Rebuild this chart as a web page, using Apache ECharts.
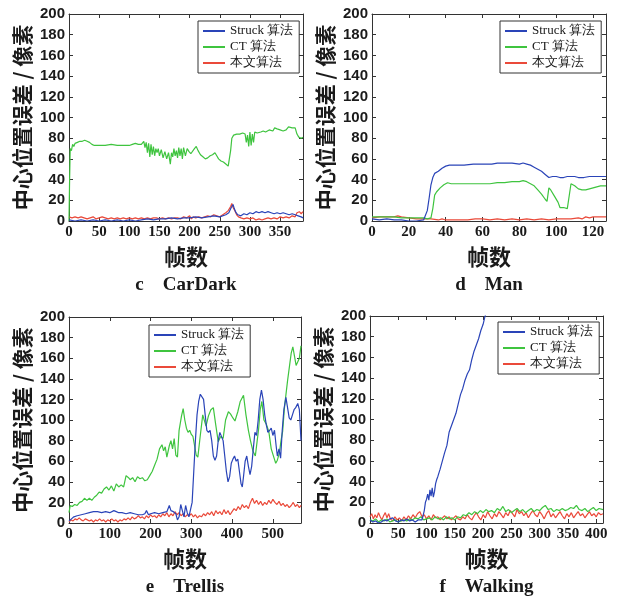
<!DOCTYPE html>
<html><head><meta charset="utf-8">
<script src="https://cdn.jsdelivr.net/npm/echarts@6/dist/echarts.min.js"></script>
<style>html,body{margin:0;padding:0;background:#fff}#c{width:617px;height:601px}</style>
</head><body><div id="c"></div><script>
// ---------- data ----------
const seriesNames = ['Struck 算法', 'CT 算法', '本文算法'];
const subtitles = ['c\u2003CarDark', 'd\u2003Man', 'e\u2003Trellis', 'f\u2003Walking'];
const xAxisName = '帧数';
const yAxisName = '中心位置误差 / 像素';
const xMaxes = [388, 127, 569, 412];
const xIntervals = [50, 20, 100, 50];

const carDarkStruck = [[0,1],[10,0],[20,1],[30,0],[40,1],[50,0],[60,1],[70,0],[80,1],[90,0],[100,1],[110,0],[120,1],[130,2],[140,1],[150,2],[160,2],[170,3],[180,2],[190,3],[200,3],[210,4],[220,3],[230,4],[240,5],[250,4],[260,6],[265,8],[269,13],[272,16],[274,12],[277,8],[280,6],[285,5],[290,7],[295,6],[300,8],[305,7],[310,9],[315,8],[320,9],[325,8],[330,9],[335,8],[340,7],[345,8],[350,7],[355,8],[360,7],[365,6],[370,7],[375,6],[380,5],[385,4],[388,3]];
const carDarkCT = [[0,0],[1,40],[2,70],[4,68],[6,74],[8,72],[10,75],[14,76],[18,77],[22,77],[26,78],[30,77],[34,76],[38,74],[42,73],[50,73],[60,73],[70,74],[80,73],[90,73],[100,73],[105,74],[110,75],[115,74],[120,74],[124,77],[126,71],[128,76],[130,66],[132,75],[134,62],[136,74],[138,64],[140,72],[142,63],[144,70],[146,66],[148,70],[150,63],[153,69],[156,61],[159,67],[162,60],[165,66],[168,55],[170,66],[172,62],[174,70],[176,63],[178,68],[180,61],[182,71],[184,63],[186,70],[188,60],[190,71],[193,63],[196,70],[199,67],[202,65],[205,64],[208,70],[211,72],[214,68],[218,64],[222,62],[226,60],[230,61],[234,63],[238,64],[242,66],[245,63],[248,60],[252,58],[256,57],[260,55],[264,53],[266,54],[268,68],[270,80],[273,83],[278,84],[283,84],[288,85],[292,84],[294,76],[296,83],[298,72],[300,86],[302,73],[304,84],[306,76],[308,86],[312,85],[318,86],[322,87],[326,86],[332,88],[338,87],[341,90],[345,89],[350,88],[355,87],[360,88],[364,91],[370,90],[375,90],[378,84],[381,81],[385,80],[388,81]];
const carDarkOurs = [[0,4],[5,3],[10,4],[15,3],[20,4],[25,3],[30,2],[35,3],[40,4],[45,2],[50,3],[55,4],[60,3],[65,2],[70,3],[75,2],[80,3],[85,2],[90,3],[95,2],[100,3],[105,2],[110,3],[115,2],[120,3],[125,2],[130,3],[135,2],[140,3],[145,3],[150,2],[155,3],[160,2],[165,3],[170,2],[175,3],[180,3],[185,2],[190,4],[195,3],[200,5],[203,2],[206,4],[210,3],[215,4],[220,3],[225,4],[230,5],[235,4],[240,6],[245,5],[250,4],[255,6],[260,8],[264,10],[268,14],[270,17],[272,13],[275,10],[278,6],[281,4],[285,3],[290,2],[295,3],[300,2],[305,3],[310,1],[315,2],[320,1],[325,2],[330,3],[335,2],[340,3],[345,2],[350,4],[355,3],[360,4],[365,3],[370,5],[375,4],[378,8],[382,9],[385,7],[388,9]];

const manStruck = [[0,2],[4,1],[8,2],[12,1],[16,1],[20,0],[24,0],[28,1],[29,2],[30,10],[31,22],[32,35],[33,42],[34,46],[36,48],[38,51],[40,53],[42,54],[45,54],[50,54],[55,55],[60,55],[65,55],[68,56],[72,56],[76,56],[80,55],[82,56],[84,55],[86,54],[88,52],[90,50],[92,48],[94,45],[96,42],[98,43],[100,43],[102,42],[104,42],[106,43],[108,43],[110,43],[112,42],[115,42],[118,43],[120,43],[124,43],[127,43]];
const manCT = [[0,4],[4,4],[8,4],[12,4],[16,3],[20,3],[24,3],[28,3],[30,2],[31,2],[32,3],[33,12],[34,25],[35,28],[37,32],[39,35],[41,37],[43,36],[46,36],[50,36],[55,36],[60,36],[64,36],[68,37],[72,37],[76,38],[80,38],[82,39],[84,38],[86,36],[88,34],[90,30],[92,26],[94,21],[95,19],[96,32],[97,30],[99,24],[101,18],[102,13],[104,13],[106,12],[107,11],[108,36],[110,34],[112,31],[114,30],[116,30],[118,31],[120,32],[122,33],[124,34],[127,34]];
const manOurs = [[0,3],[4,4],[8,4],[12,4],[14,5],[16,4],[20,3],[24,2],[28,2],[32,2],[36,1],[38,2],[40,1],[44,1],[48,1],[52,1],[56,2],[60,2],[64,1],[68,2],[72,1],[76,2],[80,1],[84,2],[88,1],[92,2],[96,1],[100,2],[104,2],[108,2],[112,3],[114,2],[116,4],[118,3],[120,4],[124,4],[127,4]];

const trellisStruck = [[0,2],[6,4],[12,6],[20,7],[30,8],[40,9],[50,10],[60,11],[70,11],[80,10],[90,11],[100,10],[110,12],[116,11],[122,10],[130,10],[140,9],[150,10],[160,9],[170,8],[180,8],[186,9],[190,12],[195,8],[200,9],[210,10],[220,9],[230,10],[240,11],[246,17],[250,12],[256,11],[262,9],[266,3],[270,6],[274,18],[278,12],[282,6],[286,17],[290,10],[294,6],[298,5],[302,20],[306,50],[310,80],[314,105],[318,118],[322,125],[326,126],[330,120],[334,105],[338,90],[342,88],[346,90],[350,80],[354,65],[358,61],[362,65],[366,80],[370,88],[374,89],[378,80],[382,65],[386,50],[390,40],[394,45],[398,58],[402,62],[406,65],[410,60],[414,62],[418,50],[422,38],[425,35],[428,45],[432,60],[436,65],[440,55],[444,47],[448,55],[452,72],[456,88],[460,85],[464,100],[468,120],[472,129],[476,120],[480,105],[484,95],[488,88],[492,90],[496,92],[500,85],[504,90],[508,75],[511,65],[515,72],[519,63],[523,90],[527,110],[532,122],[536,112],[540,102],[544,100],[548,105],[552,110],[556,112],[561,116],[565,110],[569,80]];
const trellisCT = [[0,10],[3,17],[8,16],[14,18],[20,17],[26,20],[32,21],[38,24],[44,22],[50,24],[56,22],[62,25],[68,27],[74,30],[80,29],[86,33],[92,35],[98,32],[104,36],[110,31],[116,38],[122,35],[128,37],[134,35],[140,46],[146,44],[150,42],[156,44],[162,40],[168,45],[174,43],[180,44],[186,41],[192,42],[198,46],[204,50],[210,56],[216,62],[222,72],[228,76],[232,70],[236,74],[240,64],[246,75],[250,80],[254,72],[258,82],[262,66],[266,64],[270,90],[276,104],[280,111],[284,100],[288,92],[292,88],[296,90],[300,86],[304,84],[308,75],[312,66],[316,64],[322,85],[328,105],[336,94],[342,104],[348,110],[354,112],[360,95],[366,79],[372,84],[378,82],[384,100],[391,108],[396,106],[402,102],[407,99],[414,108],[420,118],[428,124],[434,105],[440,90],[445,80],[451,70],[457,65],[461,78],[465,91],[469,110],[473,118],[478,100],[484,96],[490,89],[496,72],[503,63],[507,58],[511,61],[516,68],[520,80],[524,89],[528,110],[531,121],[536,138],[541,153],[545,165],[549,171],[553,162],[557,153],[561,152],[565,160],[569,172]];
const trellisOurs = [[0,1],[5,3],[10,2],[15,4],[20,3],[25,5],[30,3],[35,2],[40,4],[45,3],[50,2],[55,3],[60,1],[65,3],[70,2],[75,4],[80,2],[85,3],[90,1],[95,3],[100,2],[105,4],[110,2],[115,3],[120,1],[125,3],[130,2],[135,4],[140,3],[145,5],[150,3],[155,6],[160,4],[165,5],[170,7],[175,5],[180,6],[185,4],[190,7],[195,5],[200,8],[205,6],[210,7],[215,5],[220,8],[225,6],[230,9],[235,7],[240,10],[245,6],[250,9],[255,7],[260,11],[265,8],[270,10],[275,7],[280,9],[285,6],[290,8],[295,7],[300,9],[305,6],[310,8],[315,5],[320,7],[325,6],[330,9],[335,7],[340,10],[345,8],[350,11],[355,7],[360,12],[365,9],[370,11],[375,8],[380,13],[385,9],[390,12],[395,8],[400,11],[405,14],[410,12],[415,16],[420,13],[425,18],[430,15],[435,17],[440,14],[445,20],[450,24],[455,19],[460,22],[465,18],[470,21],[475,17],[480,20],[485,18],[490,22],[495,19],[500,23],[505,20],[510,18],[515,21],[520,17],[525,19],[530,16],[535,18],[540,15],[545,17],[550,20],[555,16],[560,18],[565,15],[569,17]];

const walkingStruck = [[0,3],[5,1],[10,2],[15,0],[20,1],[25,3],[30,2],[35,4],[40,5],[45,2],[50,1],[55,3],[60,2],[65,4],[70,2],[75,3],[80,1],[85,3],[88,2],[92,3],[95,2],[96,12],[98,20],[100,23],[102,28],[104,22],[106,32],[108,26],[110,34],[112,25],[114,30],[116,38],[118,42],[120,45],[124,52],[128,60],[132,68],[136,75],[140,88],[144,94],[148,100],[152,106],[156,115],[160,124],[164,130],[168,138],[172,144],[176,148],[180,158],[184,166],[188,172],[192,178],[196,186],[200,192],[203,199],[206,204],[210,212]];
const walkingCT = [[0,3],[5,2],[10,4],[15,1],[20,3],[25,2],[30,4],[35,1],[40,2],[45,3],[50,1],[55,2],[60,3],[65,2],[70,4],[75,3],[80,5],[85,4],[90,6],[95,3],[100,4],[105,5],[110,3],[115,6],[120,4],[125,5],[130,3],[135,6],[140,4],[145,5],[150,3],[155,6],[160,5],[165,8],[170,7],[175,10],[180,8],[185,11],[190,9],[195,12],[200,10],[205,13],[210,11],[215,12],[220,10],[225,14],[230,12],[235,16],[240,11],[245,13],[250,10],[255,12],[260,14],[265,11],[270,13],[275,10],[280,12],[285,14],[290,11],[295,13],[300,12],[305,15],[310,17],[315,13],[320,14],[325,11],[330,13],[335,12],[340,14],[345,12],[350,13],[355,15],[360,14],[365,17],[370,13],[375,12],[380,14],[385,11],[390,13],[395,15],[400,12],[405,14],[412,13]];
const walkingOurs = [[0,6],[3,9],[6,4],[9,8],[12,5],[15,10],[18,6],[21,3],[24,7],[27,10],[30,5],[33,9],[36,4],[40,2],[44,6],[48,3],[52,5],[56,2],[60,6],[64,3],[68,7],[72,4],[76,8],[80,5],[84,9],[88,11],[92,6],[96,8],[100,4],[104,7],[108,3],[112,8],[116,5],[120,6],[124,3],[128,5],[132,7],[136,4],[140,6],[144,3],[148,5],[152,7],[156,4],[160,3],[164,6],[168,4],[172,8],[176,5],[180,3],[184,7],[188,10],[192,6],[196,3],[200,8],[204,5],[208,11],[212,7],[216,4],[220,9],[224,6],[228,11],[232,8],[236,5],[240,10],[244,7],[248,12],[252,9],[256,6],[260,13],[264,9],[268,11],[272,7],[276,10],[280,5],[284,9],[288,12],[292,8],[296,6],[300,11],[304,8],[308,4],[312,9],[316,12],[320,6],[324,9],[328,5],[332,8],[336,11],[340,7],[344,4],[348,9],[352,6],[356,10],[360,5],[364,8],[368,11],[372,7],[376,9],[380,5],[384,8],[388,11],[392,7],[396,9],[400,6],[404,10],[408,8],[412,9]];

const panelData = [
  [carDarkStruck, carDarkCT, carDarkOurs],
  [manStruck, manCT, manOurs],
  [trellisStruck, trellisCT, trellisOurs],
  [walkingStruck, walkingCT, walkingOurs]
];

// ---------- layout / style ----------
const colors = ['#2a44b8', '#3fc43f', '#ea4a3a'];
const grids = [
  {left: 69, top: 14, width: 234, height: 207},
  {left: 372, top: 14, width: 234, height: 207},
  {left: 69, top: 317, width: 232, height: 206},
  {left: 370, top: 316, width: 233, height: 207}
];
const legendPos = [
  {left: 198, top: 21},
  {left: 500, top: 21},
  {left: 149, top: 325},
  {left: 498, top: 322}
];
const lineCol = '#333';
const txtCol = '#1a1a1a';

const xAxes = [], yAxes = [], series = [], legends = [];
grids.forEach((g, i) => {
  const xi = xIntervals[i];
  xAxes.push({
    type: 'value', gridIndex: i, position: 'bottom', min: 0, max: xMaxes[i], interval: xi,
    axisLine: {show: true, onZero: false, lineStyle: {color: lineCol, width: 1}},
    axisTick: {show: true, inside: true, length: 4, lineStyle: {color: lineCol}},
    splitLine: {show: false},
    axisLabel: {color: txtCol, fontFamily: 'Liberation Serif', fontWeight: 'bold', fontSize: 15, margin: 4,
      showMaxLabel: false, formatter: v => (v % xi === 0 ? String(v) : '')},
    name: '{a|' + xAxisName + '}\n{b|' + subtitles[i] + '}',
    nameLocation: 'middle', nameGap: 22,
    nameTextStyle: {
      rich: {
        a: {fontFamily: 'Noto Sans CJK SC', fontWeight: 'bold', fontSize: 22, lineHeight: 28, color: txtCol},
        b: {fontFamily: 'Liberation Serif', fontWeight: 'bold', fontSize: 19, lineHeight: 28, color: txtCol}
      }
    }
  });
  xAxes.push({
    type: 'value', gridIndex: i, position: 'top', min: 0, max: xMaxes[i], interval: xi,
    axisLine: {show: true, onZero: false, lineStyle: {color: lineCol, width: 1}},
    axisTick: {show: true, inside: true, length: 4, lineStyle: {color: lineCol}},
    splitLine: {show: false}, axisLabel: {show: false}
  });
  yAxes.push({
    type: 'value', gridIndex: i, position: 'left', min: 0, max: 200, interval: 20,
    axisLine: {show: true, onZero: false, lineStyle: {color: lineCol, width: 1}},
    axisTick: {show: true, inside: true, length: 4, lineStyle: {color: lineCol}},
    splitLine: {show: false},
    axisLabel: {color: txtCol, fontFamily: 'Liberation Sans', fontWeight: 'bold', fontSize: 15, margin: 4},
    name: yAxisName, nameLocation: 'middle', nameGap: 36, nameRotate: 90,
    nameTextStyle: {fontFamily: 'Noto Sans CJK SC', fontWeight: 'bold', fontSize: 21, color: txtCol}
  });
  yAxes.push({
    type: 'value', gridIndex: i, position: 'right', min: 0, max: 200, interval: 20,
    axisLine: {show: true, onZero: false, lineStyle: {color: lineCol, width: 1}},
    axisTick: {show: true, inside: true, length: 4, lineStyle: {color: lineCol}},
    splitLine: {show: false}, axisLabel: {show: false}
  });
  panelData[i].forEach((d, k) => {
    series.push({
      type: 'line', name: seriesNames[k], xAxisIndex: 2 * i, yAxisIndex: 2 * i,
      data: d, symbol: 'none', showSymbol: false, clip: true, z: 3 - k,
      lineStyle: {color: colors[k], width: 1.2}, itemStyle: {color: colors[k]}
    });
  });
  legends.push({
    data: seriesNames, orient: 'vertical', left: legendPos[i].left, top: legendPos[i].top,
    selectedMode: false, backgroundColor: '#fff', borderColor: lineCol, borderWidth: 1,
    padding: [3, 6, 3, 5], itemGap: 2, itemWidth: 22, itemHeight: 2, icon: 'rect', itemTextGap: 5,
    textStyle: {fontFamily: 'Liberation Serif', fontSize: 13, color: txtCol, lineHeight: 14}
  });
});

const chart = echarts.init(document.getElementById('c'), null, {renderer: 'canvas'});
chart.setOption({
  backgroundColor: '#ffffff',
  animation: false,
  grid: grids,
  xAxis: xAxes,
  yAxis: yAxes,
  legend: legends,
  series: series
});
</script></body></html>
